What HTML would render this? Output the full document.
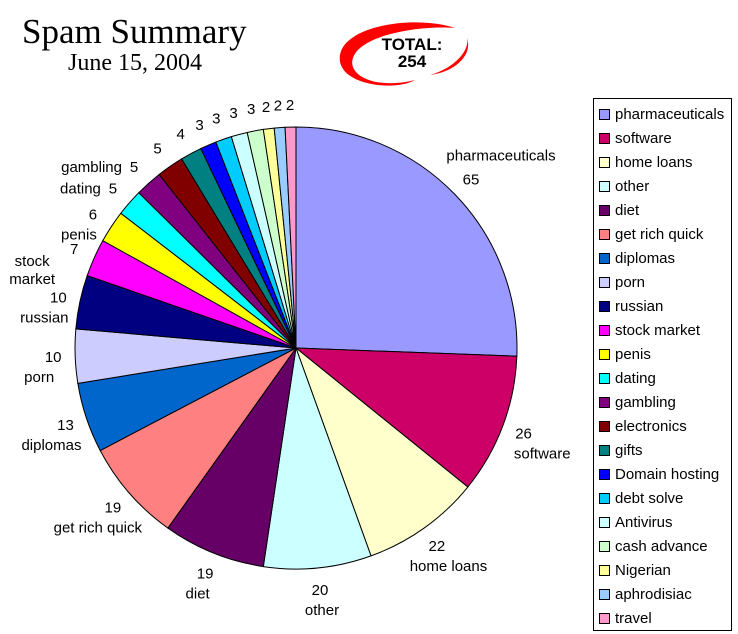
<!DOCTYPE html>
<html><head><meta charset="utf-8"><style>
body{margin:0;background:#fff;width:738px;height:634px;overflow:hidden;position:relative;font-family:"Liberation Sans",Arial,sans-serif}
#title{position:absolute;left:22px;top:14px;font-family:"Liberation Serif",serif;font-size:35px;line-height:36px}
#sub{position:absolute;left:68px;top:50px;font-family:"Liberation Serif",serif;font-size:24px}
#legend{position:absolute;left:593px;top:98px;width:139px;height:533px;border:1px solid #000;box-sizing:border-box}
.li{position:absolute;left:5px;font-size:15px;height:18px;line-height:18px}
.sw{display:inline-block;width:9px;height:9px;border:1px solid #000;margin-right:5px;vertical-align:-1px}
</style></head><body>
<div id="title">Spam Summary</div>
<div id="sub">June 15, 2004</div>
<svg style="position:absolute;left:335px;top:20px" width="140" height="80">
<path d="M120,8 C80,-5 10,5 5,35 C0,65 60,72 80,60 C40,70 12,55 18,38 C25,15 85,5 120,8Z" fill="#f00"/>
<path d="M95,55 C120,48 135,30 132,18 C138,35 120,52 95,55Z" fill="#f00"/>
<text x="77" y="30" text-anchor="middle" font-weight="bold" font-size="17" font-family="Liberation Sans">TOTAL:</text>
<text x="77" y="47" text-anchor="middle" font-weight="bold" font-size="17" font-family="Liberation Sans">254</text>
</svg>
<svg id="pie" width="738" height="634" style="position:absolute;left:0;top:0"></svg>
<div id="legend"></div>
<script>
const categories=["pharmaceuticals","software","home loans","other","diet","get rich quick","diplomas","porn","russian","stock market","penis","dating","gambling","electronics","gifts","Domain hosting","debt solve","Antivirus","cash advance","Nigerian","aphrodisiac","travel"];
const values=[65,26,22,20,19,19,13,10,10,7,6,5,5,5,4,3,3,3,3,2,2,2];
const colors=["#9999FF","#CC0066","#FFFFCC","#CCFFFF","#660066","#FF8080","#0066CC","#CCCCFF","#000080","#FF00FF","#FFFF00","#00FFFF","#800080","#800000","#008080","#0000FF","#00CCFF","#CCFFFF","#CCFFCC","#FFFF99","#99CCFF","#FF99CC"];
const svg=document.getElementById('pie');const NS="http://www.w3.org/2000/svg";
const cx=296,cy=348,R=221;
const total=values.reduce((a,b)=>a+b,0);
function pt(a,r){return [cx+r*Math.sin(a),cy-r*Math.cos(a)];}
let acc=0;
values.forEach((v,i)=>{
  const a0=acc/total*2*Math.PI;acc+=v;const a1=acc/total*2*Math.PI;
  const p0=pt(a0,R),p1=pt(a1,R);
  const p=document.createElementNS(NS,'path');
  p.setAttribute('d',`M${cx},${cy}L${p0[0]},${p0[1]}A${R},${R} 0 ${a1-a0>Math.PI?1:0} 1 ${p1[0]},${p1[1]}Z`);
  p.setAttribute('fill',colors[i]);p.setAttribute('stroke','#000');p.setAttribute('stroke-width','1');
  
  
  svg.appendChild(p);
  const am=(a0+a1)/2;const q=pt(am,R+22);
  const t=document.createElementNS(NS,'text');
  t.setAttribute('x',q[0]);t.setAttribute('y',q[1]+5);t.setAttribute('font-size','15');t.setAttribute('text-anchor','middle');
  t.setAttribute('font-family','Liberation Sans');
  
  
  t.textContent=v;svg.appendChild(t);
  if(i<=12){
    const n=document.createElementNS(NS,'text');
    n.setAttribute('font-size','15');n.setAttribute('font-family','Liberation Sans');
    
    
    let x=q[0],y=q[1]+5,anc='middle';
    const deg=am*180/Math.PI;
    if(deg<80){y-=24;x+=30;}
    else if(deg<230){y+=20;x+=Math.sin(am)*20;}
    else if(deg<305){y+=20;x-=14;}
    else {x-=12;anc='end';}
    if(categories[i]==='stock market'){n.setAttribute('text-anchor','middle');
      const a=document.createElementNS(NS,'tspan');a.setAttribute('x',x-28);a.setAttribute('y',y-8);a.textContent='stock';
      const b=document.createElementNS(NS,'tspan');b.setAttribute('x',x-28);b.setAttribute('y',y+10);b.textContent='market';
      n.appendChild(a);n.appendChild(b);
    } else {n.setAttribute('x',x);n.setAttribute('y',y);n.setAttribute('text-anchor',anc);n.textContent=categories[i];}
    svg.appendChild(n);
  }
});
const lg=document.getElementById('legend');
categories.forEach((c,i)=>{
  const d=document.createElement('div');d.className='li';d.style.top=(7+i*24)+'px';
  
  
  d.innerHTML=`<span class="sw" style="background:${colors[i]}"></span>${c}`;
  lg.appendChild(d);
});
</script>
</body></html>
